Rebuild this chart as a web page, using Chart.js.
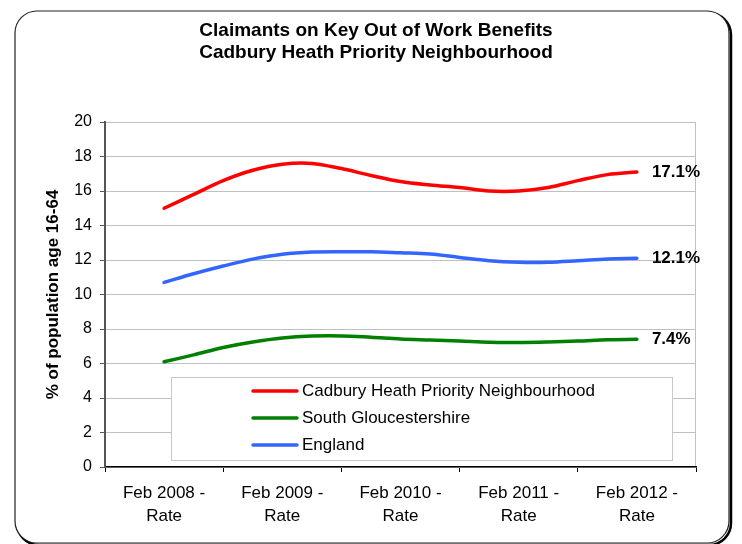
<!DOCTYPE html>
<html>
<head>
<meta charset="utf-8">
<script src="https://cdn.jsdelivr.net/npm/chart.js@4/dist/chart.umd.min.js"></script>
<style>
  html, body { margin: 0; padding: 0; background: #fff; }
  #wrap { width: 742px; height: 544px; position: relative; }
</style>
</head>
<body>
<div id="wrap"><canvas id="chartClaimants"></canvas></div>
<script>
const titleLines = ['Claimants on Key Out of Work Benefits', 'Cadbury Heath Priority Neighbourhood'];
const yAxisTitle = '% of population age 16-64';
const periodLabels = ['Feb 2008 - Rate', 'Feb 2009 - Rate', 'Feb 2010 - Rate', 'Feb 2011 - Rate', 'Feb 2012 - Rate'];
const quartersPerLabel = 4;
const seriesNames = ['Cadbury Heath Priority Neighbourhood', 'South Gloucestershire', 'England'];
const seriesColors = ['#FF0000', '#008000', '#3366FF'];
// quarterly rates, Feb 2008 .. Feb 2012
const cadburyRate = [15.0, 15.8, 16.6, 17.2, 17.55, 17.6, 17.3, 16.9, 16.55, 16.35, 16.2, 16.0, 16.0, 16.2, 16.6, 16.95, 17.1];
const southGlosRate = [6.1, 6.5, 6.93, 7.25, 7.48, 7.59, 7.6, 7.52, 7.42, 7.36, 7.3, 7.23, 7.22, 7.25, 7.3, 7.38, 7.4];
const englandRate = [10.7, 11.2, 11.65, 12.05, 12.33, 12.46, 12.48, 12.48, 12.42, 12.35, 12.15, 11.96, 11.87, 11.87, 11.96, 12.06, 12.1];
const endLabels = ['17.1%', '7.4%', '12.1%'];

Chart.defaults.font.family = '"Liberation Sans", Arial, sans-serif';
Chart.defaults.color = '#000';

function roundRectPath(ctx, x, y, w, h, r) {
    ctx.beginPath();
    ctx.moveTo(x + r, y);
    ctx.arcTo(x + w, y, x + w, y + h, r);
    ctx.arcTo(x + w, y + h, x, y + h, r);
    ctx.arcTo(x, y + h, x, y, r);
    ctx.arcTo(x, y, x + w, y, r);
    ctx.closePath();
}

const decorations = {
    id: 'decorations',
    beforeDraw(chart) {
        const ctx = chart.ctx;
        const a = chart.chartArea;
        ctx.save();
        ctx.fillStyle = '#fff';
        ctx.fillRect(0, 0, chart.width, chart.height);
        // outer frame with shadow
        roundRectPath(ctx, 17, 13, 714, 532, 22);
        ctx.lineWidth = 2.5;
        ctx.strokeStyle = '#000';
        ctx.stroke();
        roundRectPath(ctx, 15, 11, 714, 532, 22);
        ctx.fillStyle = '#fff';
        ctx.fill();
        ctx.lineWidth = 1.2;
        ctx.strokeStyle = '#222';
        ctx.stroke();
        // title
        ctx.fillStyle = '#000';
        ctx.font = 'bold 19px "Liberation Sans", Arial, sans-serif';
        ctx.textAlign = 'center';
        ctx.textBaseline = 'middle';
        titleLines.forEach((t, i) => ctx.fillText(t, 376, 31 + i * 22));
        // plot area border
        ctx.strokeStyle = '#c0c0c0';
        ctx.lineWidth = 1;
        ctx.strokeRect(a.left + 0.5, a.top + 0.5, a.right - a.left - 1, a.bottom - a.top);
        ctx.restore();
    },
    afterDatasetsDraw(chart) {
        const ctx = chart.ctx;
        ctx.save();
        ctx.fillStyle = '#000';
        ctx.font = 'bold 17px "Liberation Sans", Arial, sans-serif';
        ctx.textAlign = 'left';
        ctx.textBaseline = 'middle';
        chart.data.datasets.forEach((ds, i) => {
            const pts = chart.getDatasetMeta(i).data;
            const last = pts[pts.length - 1];
            ctx.fillText(endLabels[i], last.x + 15, last.y);
        });
        ctx.restore();
    },
    afterDraw(chart) {
        const ctx = chart.ctx;
        ctx.save();
        ctx.fillStyle = '#fff';
        ctx.fillRect(171, 377, 501, 83);
        ctx.strokeStyle = '#c8c8c8';
        ctx.lineWidth = 1;
        ctx.strokeRect(171.5, 377.5, 501, 83);
        ctx.font = '17px "Liberation Sans", Arial, sans-serif';
        ctx.textAlign = 'left';
        ctx.textBaseline = 'middle';
        chart.data.datasets.forEach((ds, i) => {
            const y = 391 + i * 27;
            ctx.strokeStyle = ds.borderColor;
            ctx.lineWidth = 3.5;
            ctx.lineCap = 'round';
            ctx.beginPath();
            ctx.moveTo(253, y);
            ctx.lineTo(297, y);
            ctx.stroke();
            ctx.fillStyle = '#000';
            ctx.fillText(ds.label, 302, y);
        });
        ctx.restore();
    }
};

const toPoints = arr => arr.map((v, i) => ({ x: i, y: v }));
const rates = [cadburyRate, southGlosRate, englandRate];

new Chart(document.getElementById('chartClaimants'), {
    type: 'line',
    data: {
        datasets: rates.map((r, i) => ({
            label: seriesNames[i],
            data: toPoints(r),
            borderColor: seriesColors[i],
            borderWidth: 3.5,
            borderCapStyle: 'round',
            pointRadius: 0,
            tension: 0.35,
            fill: false
        }))
    },
    options: {
        responsive: true, maintainAspectRatio: false,
        animation: false,
        layout: { padding: { top: 122, right: 46, left: 0, bottom: 0 } },
        plugins: { legend: { display: false }, tooltip: { enabled: false }, title: { display: false } },
        scales: {
            x: {
                type: 'linear', min: -2, max: 18,
                afterBuildTicks: (scale) => {
                    const t = [];
                    for (let v = -2; v <= 18; v += 2) t.push({ value: v });
                    scale.ticks = t;
                },
                ticks: {
                    autoSkip: false, maxRotation: 0, padding: 10,
                    font: { size: 17, lineHeight: 1.35 },
                    callback: (v) => {
                        const i = v / quartersPerLabel;
                        if (!Number.isInteger(i) || !periodLabels[i]) return '';
                        const parts = periodLabels[i].split(' - ');
                        return [parts[0] + ' -', parts[1]];
                    }
                },
                grid: {
                    drawOnChartArea: false, tickLength: 5,
                    color: (c) => (c.tick && (c.tick.value + 2) % 4 === 0) ? '#000' : 'rgba(0,0,0,0)'
                },
                border: { color: '#000', width: 1.5 },
                afterFit: (scale) => { scale.height = 77; }
            },
            y: {
                min: 0, max: 20,
                ticks: { stepSize: 2, padding: 8, font: { size: 16 } },
                grid: { color: '#c0c0c0', tickColor: '#555', tickLength: 5 },
                border: { color: '#555', width: 2 },
                title: {
                    display: true, text: yAxisTitle,
                    font: { size: 17, weight: 'bold' },
                    padding: { top: 43, bottom: 0 }
                },
                afterFit: (scale) => { scale.width = 105; }
            }
        }
    },
    plugins: [decorations]
});
</script>
</body>
</html>
